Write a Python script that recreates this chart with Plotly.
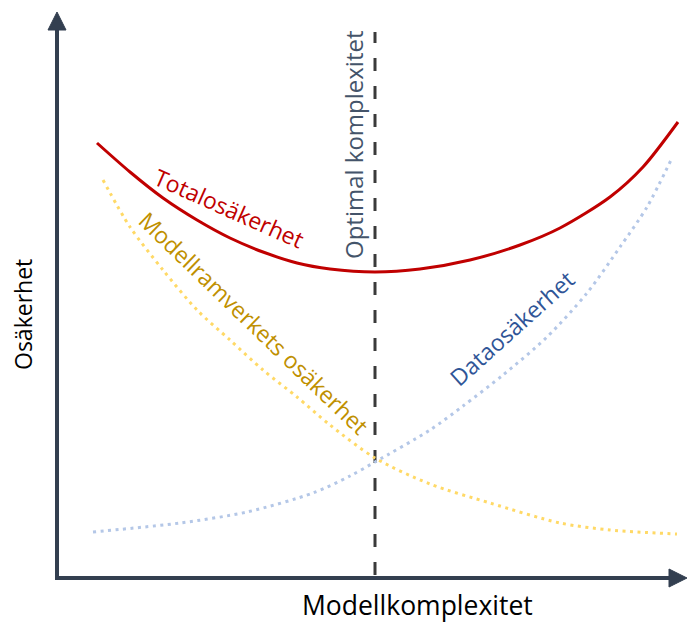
import plotly.graph_objects as go

# Complexity (x) and uncertainty (y) values
total_x = [40, 73, 106, 140, 173, 206, 240, 273, 318, 363, 413, 463, 503, 553, 586, 621]
total_y = [435, 406, 380, 358, 340, 326, 315, 309, 306, 309, 318, 333, 350, 381, 411, 456]

model_x = [46, 73, 106, 140, 173, 206, 240, 273, 318, 373, 433, 503, 553, 620]
model_y = [398, 351, 308, 268, 238, 208, 181, 153, 120, 94, 75, 55, 48, 44]

data_x = [36, 123, 190, 256, 293, 318, 373, 406, 446, 490, 530, 563, 590, 615]
data_y = [46, 55, 66, 85, 102, 116, 148, 172, 203, 241, 285, 331, 371, 420]

optimal_x = 318
optimal_span = [3, 546]

x_label = "Modellkomplexitet"
y_label = "Osäkerhet"
labels = ["Totalosäkerhet", "Modellramverkets osäkerhet", "Dataosäkerhet", "Optimal komplexitet"]

AXIS = "#333F50"
FONT = "Open Sans"

fig = go.Figure()

fig.add_trace(go.Scatter(x=[optimal_x, optimal_x], y=optimal_span, mode="lines",
                         line=dict(color="#3A3A3A", width=3, dash="13px,15px"),
                         hoverinfo="skip"))
fig.add_trace(go.Scatter(x=model_x, y=model_y, mode="lines",
                         line=dict(color="#FFD966", width=3, dash="3px,4.5px",
                                   shape="spline", smoothing=0.8),
                         hoverinfo="skip"))
fig.add_trace(go.Scatter(x=data_x, y=data_y, mode="lines",
                         line=dict(color="#B4C7E7", width=3, dash="3px,4.5px",
                                   shape="spline", smoothing=0.8),
                         hoverinfo="skip"))
fig.add_trace(go.Scatter(x=total_x, y=total_y, mode="lines",
                         line=dict(color="#C00000", width=3, shape="spline", smoothing=0.8),
                         hoverinfo="skip"))

shapes = [
    dict(type="line", x0=0, y0=0, x1=0, y1=550, xref="x", yref="y",
         line=dict(color=AXIS, width=4)),
    dict(type="line", x0=-2, y0=0, x1=614, y1=0, xref="x", yref="y",
         line=dict(color=AXIS, width=4)),
    dict(type="path", path="M -9,548 L 0,566 L 9,548 Z", xref="x", yref="y",
         fillcolor=AXIS, line=dict(color=AXIS, width=1)),
    dict(type="path", path="M 612,9 L 630,0 L 612,-9 Z", xref="x", yref="y",
         fillcolor=AXIS, line=dict(color=AXIS, width=1)),
]

annotations = [
    dict(x=172, y=370, text=labels[0], textangle=24,
         font=dict(color="#C00000", size=23, family=FONT)),
    dict(x=197, y=255, text=labels[1], textangle=44,
         font=dict(color="#BF9000", size=23, family=FONT)),
    dict(x=455, y=250, text=labels[2], textangle=-42,
         font=dict(color="#2F5597", size=23, family=FONT)),
    dict(x=296, y=433, text=labels[3], textangle=-90,
         font=dict(color="#44546A", size=24, family=FONT)),
    dict(x=-34, y=263, text=y_label, textangle=-90,
         font=dict(color="#000000", size=23, family=FONT)),
    dict(x=360, y=-27, text=x_label, textangle=0, borderpad=0,
         font=dict(color="#000000", size=26.5, family=FONT)),
]
for a in annotations:
    a.update(xref="x", yref="y", showarrow=False, xanchor="center", yanchor="middle")

fig.update_layout(
    width=688, height=624,
    margin=dict(l=0, r=0, t=0, b=0),
    paper_bgcolor="white", plot_bgcolor="white",
    showlegend=False,
    xaxis=dict(range=[-57, 631], visible=False, fixedrange=True),
    yaxis=dict(range=[-46, 578], visible=False, fixedrange=True),
    shapes=shapes,
    annotations=annotations,
)

fig.write_html("out.html", post_script="document.body.style.margin='0px';",
               config={"displayModeBar": False})
